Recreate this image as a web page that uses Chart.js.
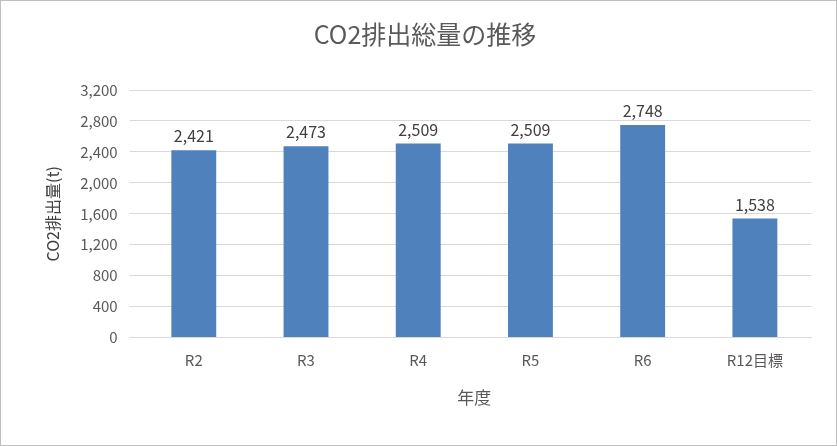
<!DOCTYPE html>
<html>
<head>
<meta charset="utf-8">
<script src="https://cdn.jsdelivr.net/npm/chart.js@4"></script>
<style>
  html, body { margin: 0; padding: 0; background: #fff; }
  #wrap { width: 835px; height: 444px; border: 1px solid #bfbfbf; }
</style>
</head>
<body>
<div id="wrap"><canvas id="c" width="835" height="444"></canvas></div>
<script>
// chart data
const categories = ['R2', 'R3', 'R4', 'R5', 'R6', 'R12目標'];
const emissions = [2421, 2473, 2509, 2509, 2748, 1538];
const yTicks = [0, 400, 800, 1200, 1600, 2000, 2400, 2800, 3200];

const font = "'Noto Sans CJK JP', 'Noto Sans', sans-serif";

// draw the value above each bar
const valueLabels = {
    id: 'valueLabels',
    afterDatasetsDraw(chart) {
        const ctx = chart.ctx;
        const meta = chart.getDatasetMeta(0);
        ctx.save();
        ctx.fillStyle = '#404040';
        ctx.font = '16px ' + font;
        ctx.textAlign = 'center';
        ctx.textBaseline = 'bottom';
        meta.data.forEach((bar, i) => {
            ctx.fillText(emissions[i].toLocaleString('en-US'), bar.x, bar.y - 6);
        });
        ctx.restore();
    }
};

new Chart(document.getElementById('c'), {
    type: 'bar',
    data: {
        labels: categories,
        datasets: [{
            data: emissions,
            backgroundColor: '#4f81bd',
            categoryPercentage: 1,
            barPercentage: 0.4
        }]
    },
    options: {
        responsive: false,
        animation: false,
        layout: { padding: { left: 38, right: 25, top: 10, bottom: 33 } },
        plugins: {
            legend: { display: false },
            tooltip: { enabled: false },
            title: {
                display: true,
                text: 'CO2排出総量の推移',
                color: '#595959',
                font: { family: font, size: 25, weight: 'normal' },
                padding: { top: 8, bottom: 41 }
            }
        },
        scales: {
            x: {
                grid: { display: false },
                border: { color: '#d9d9d9' },
                ticks: { color: '#595959', font: { family: font, size: 15 }, padding: 6 },
                title: {
                    display: true, text: '年度', color: '#595959',
                    font: { family: font, size: 17 }, padding: { top: 12 }
                }
            },
            y: {
                min: 0, max: 3200,
                afterBuildTicks: axis => { axis.ticks = yTicks.map(v => ({ value: v })); },
                grid: { color: '#d9d9d9' },
                border: { display: false },
                ticks: {
                    color: '#595959', font: { family: font, size: 15 }, padding: 12,
                    callback: v => v.toLocaleString('en-US')
                },
                title: {
                    display: true, text: 'CO2排出量(t)', color: '#404040',
                    font: { family: font, size: 16 }, padding: { bottom: 6 }
                }
            }
        }
    },
    plugins: [valueLabels]
});
</script>
</body>
</html>
